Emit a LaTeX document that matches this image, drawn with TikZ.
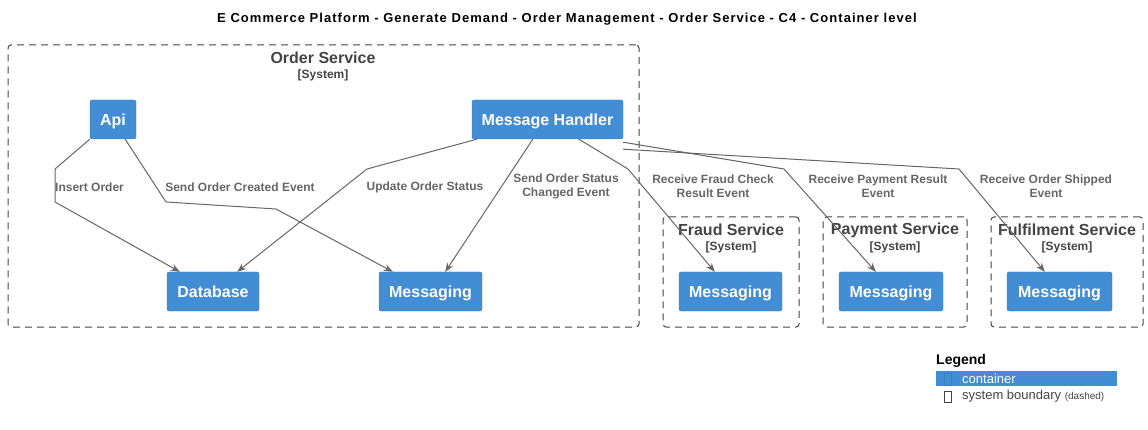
\documentclass[tikz,border=0pt]{standalone}
\usepackage{fontspec}
\setmainfont{Liberation Sans}
\usetikzlibrary{arrows.meta,calc}
\definecolor{cblue}{HTML}{438DD5}
\definecolor{cblueline}{HTML}{3C7FC0}
\definecolor{bgray}{HTML}{444444}
\definecolor{egray}{HTML}{666666}
\newcommand{\fs}[1]{\fontsize{#1}{#1}\selectfont}
\tikzset{
  container/.style={draw=cblueline, fill=cblue, rounded corners=2pt, text=white,
    font=\fs{16}\bfseries, minimum height=39pt, inner sep=0pt,
    text height=11.5pt, text depth=0pt},
  boundary/.style={draw=bgray, line width=1pt, dash pattern=on 7pt off 5pt,
    rounded corners=3pt, inner sep=0pt},
  btitle/.style={text=bgray, font=\fs{16}\bfseries, inner sep=0pt},
  bsys/.style={text=bgray, font=\fs{12}\bfseries, inner sep=0pt},
  rel/.style={draw=egray, line width=1pt, -{Stealth[length=9pt,width=7pt]}},
  rellabel/.style={text=egray, font=\fontsize{12}{14}\selectfont\bfseries,
    align=center, inner sep=0pt}
}
\begin{document}
\begin{tikzpicture}[x=1pt, y=-1pt]
  \useasboundingbox (0,0) rectangle (1148,430);
  \node[font=\fs{13}\bfseries\addfontfeature{LetterSpace=8}, inner sep=0pt] (title) at (567,19) {E Commerce Platform - Generate Demand - Order Management - Order Service - C4 - Container level};
  % boundaries
  \node[boundary, minimum width=631pt, minimum height=282pt] (orderb) at (323.5,186) {};
  \node[btitle] (ordert) at (323,58) {Order Service};
  \node[bsys] (orders) at (323,75) {[System]};
  \node[boundary, minimum width=136pt, minimum height=110pt] (fraudb) at (731,272) {};
  \node[btitle] (fraudt) at (731,230) {Fraud Service};
  \node[bsys] (frauds) at (731,247) {[System]};
  \node[boundary, minimum width=144pt, minimum height=110pt] (payb) at (895,272) {};
  \node[btitle] (payt) at (895,230) {Payment Service};
  \node[bsys] (pays) at (895,247) {[System]};
  \node[boundary, minimum width=152pt, minimum height=110pt] (fulb) at (1067,272) {};
  \node[btitle] (fult) at (1067,230) {Fulfilment Service};
  \node[bsys] (fuls) at (1067,247) {[System]};
  % containers
  \node[container, minimum width=46pt] (api) at (113,119.5) {Api};
  \node[container, minimum width=151pt] (mh) at (547.5,119.5) {Message Handler};
  \node[container, minimum width=92pt] (db) at (213,291.5) {Database};
  \node[container, minimum width=103pt] (msg) at (430.5,291.5) {Messaging};
  \node[container, minimum width=103pt] (fraudmsg) at (730.5,291.5) {Messaging};
  \node[container, minimum width=104pt] (paymsg) at (891,291.5) {Messaging};
  \node[container, minimum width=105pt] (fulmsg) at (1059.5,291.5) {Messaging};
  % relations
  \draw[rel] (api.south west) -- (55,169) -- (55,202) -- ([xshift=13pt]db.north west);
  \draw[rel] ([xshift=-11pt]api.south east) -- (166,202) -- (276,209) -- ([xshift=14pt]msg.north west);
  \draw[rel] ([xshift=5pt]mh.south west) -- (367,169) -- ([xshift=-22pt]db.north east);
  \draw[rel] ([xshift=61pt]mh.south west) -- ([xshift=-37pt]msg.north east);
  \draw[rel] ([xshift=107pt]mh.south west) -- (628,169) -- ([xshift=36pt]fraudmsg.north west);
  \draw[rel] ([yshift=-3pt]mh.south east) -- (784,169) -- ([xshift=37pt]paymsg.north west);
  \draw[rel] ([yshift=-10pt]mh.south east) -- (959,169) -- ([xshift=38pt]fulmsg.north west);
  \node[rellabel, anchor=west] (l1) at (55,187) {Insert Order};
  \node[rellabel] (l2) at (240,187) {Send Order Created Event};
  \node[rellabel] (l3) at (425,187) {Update Order Status};
  \node[rellabel] (l4) at (566,186) {Send Order Status\\Changed Event};
  \node[rellabel] (l5) at (713,186) {Receive Fraud Check\\Result Event};
  \node[rellabel] (l6) at (878,186) {Receive Payment Result\\Event};
  \node[rellabel] (l7) at (1046,186) {Receive Order Shipped\\Event};
  % legend
  \node[font=\fs{14}\bfseries, anchor=west, inner sep=0pt] (legend) at (936,361) {Legend};
  \fill[cblue] (936,371) rectangle (1117,386);
  \draw[cblueline] (944,373) rectangle (951,385);
  \node[text=white, font=\fs{13}, anchor=west, inner sep=0pt] (lcont) at (962,379) {container};
  \draw[bgray] (944.5,391) rectangle (951.5,402);
  \node[text=bgray, font=\fs{13}, anchor=west, inner sep=0pt] (lbound) at (962,396) {system boundary {\fs{10}(dashed)}};
\end{tikzpicture}
\end{document}
